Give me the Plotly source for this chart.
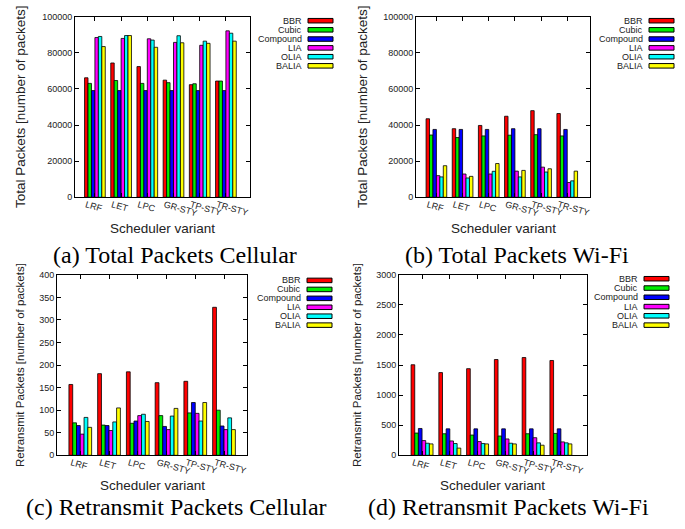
import plotly.graph_objects as go

categories = ["LRF", "LET", "LPC", "GR-STY", "TP-STY", "TR-STY"]
series = ["BBR", "Cubic", "Compound", "LIA", "OLIA", "BALIA"]
colors = ["#ff0000", "#00ee00", "#0000ff", "#ff00ff", "#00ffff", "#ffff00"]

# (a) Total packets, cellular
total_cell = {
    "BBR":      [66200, 74400, 72400, 64900, 62400, 64400],
    "Cubic":    [63100, 64700, 63100, 63500, 62900, 64400],
    "Compound": [59100, 59100, 59100, 59100, 59100, 59100],
    "LIA":      [88500, 88000, 87800, 85800, 84200, 92200],
    "OLIA":     [89100, 89600, 87100, 89500, 86500, 90900],
    "BALIA":    [83500, 89600, 83100, 85600, 85300, 86500],
}
# (b) Total packets, Wi-Fi
total_wifi = {
    "BBR":      [43500, 38000, 39800, 44900, 48000, 46400],
    "Cubic":    [34500, 33100, 34000, 34400, 34700, 34000],
    "Compound": [37600, 37600, 37600, 38000, 38000, 37600],
    "LIA":      [12000, 12900, 12900, 14500, 16700, 8200],
    "OLIA":     [11300, 10700, 14400, 11300, 14000, 9100],
    "BALIA":    [17500, 11600, 18700, 14900, 15800, 14500],
}
# (c) Retransmit packets, cellular
retr_cell = {
    "BBR":      [157, 181, 185, 161, 164, 328],
    "Cubic":    [72, 67, 71, 88, 94, 100],
    "Compound": [66, 66, 76, 64, 117, 65],
    "LIA":      [47, 55, 88, 57, 93, 57],
    "OLIA":     [84, 74, 91, 87, 76, 83],
    "BALIA":    [62, 105, 75, 104, 117, 57],
}
# (d) Retransmit packets, Wi-Fi
retr_wifi = {
    "BBR":      [1505, 1375, 1440, 1592, 1625, 1576],
    "Cubic":    [370, 359, 337, 321, 359, 364],
    "Compound": [446, 440, 440, 440, 440, 440],
    "LIA":      [245, 239, 228, 272, 293, 223],
    "OLIA":     [201, 196, 196, 201, 207, 207],
    "BALIA":    [190, 120, 190, 190, 168, 190],
}

W, H = 685, 529
def px(x): return x / W
def py(y): return 1 - y / H

panels = [
    dict(data=total_cell, xd=(75, 250), yd=(12, 196), xr=[-0.76, 5.92], yr=[0, 100000], dt=20000,
         ytitle="Total Packets [number of packets]", yts=13.5, ytx=20,
         cap="(a) Total Packets Cellular", capx=175, capy=255, xtx=162, xty=228,
         legx=303, legy=[16, 25.3, 34.7, 43.7, 52.7, 62]),
    dict(data=total_wifi, xd=(416, 590), yd=(12, 196), xr=[-0.78, 5.87], yr=[0, 100000], dt=20000,
         ytitle="Total Packets [number of packets]", yts=13.5, ytx=362,
         cap="(b) Total Packets Wi-Fi", capx=517, capy=255, xtx=503, xty=228,
         legx=644, legy=[16, 25.3, 34.7, 43.7, 52.7, 62]),
    dict(data=retr_cell, xd=(57, 247), yd=(275, 459), xr=[-0.81, 5.8], yr=[0, 400], dt=50,
         ytitle="Retransmit Packets [number of packets]", yts=11.5, ytx=20,
         cap="(c) Retransmit Packets Cellular", capx=176, capy=512, xtx=152, xty=490,
         legx=302, legy=[280.7, 289.9, 299.0, 308.1, 317.2, 326.3]),
    dict(data=retr_wifi, xd=(399, 587), yd=(275, 459), xr=[-0.83, 5.94], yr=[0, 3000], dt=500,
         ytitle="Retransmit Packets [number of packets]", yts=11.5, ytx=357,
         cap="(d) Retransmit Packets Wi-Fi", capx=508, capy=512, xtx=492, xty=490,
         legx=639, legy=[279, 288.5, 297.9, 307.4, 316.8, 326.3]),
]

fig = go.Figure()
annotations = []
shapes = []
sans = "Liberation Sans, Arial, sans-serif"
serif = "Liberation Serif, Times New Roman, serif"

for i, p in enumerate(panels):
    n = "" if i == 0 else str(i + 1)
    for s, c in zip(series, colors):
        fig.add_trace(go.Bar(
            x=categories, y=p["data"][s], name=s, showlegend=False,
            marker=dict(color=c, line=dict(color="black", width=0.8)),
            xaxis="x" + n, yaxis="y" + n, offsetgroup=s,
        ))
    fig.update_layout(**{
        "xaxis" + n: dict(
            domain=[px(p["xd"][0]), px(p["xd"][1])], anchor="y" + n,
            range=p["xr"], type="category",
            showline=True, linecolor="black", linewidth=1, mirror="allticks",
            ticks="inside", ticklen=4, tickcolor="black",
            tickangle=16, tickfont=dict(family=sans, size=9, color="#222"),
            ticklabelshift=-9, ticklabelstandoff=-2,
            showgrid=False, zeroline=False,
        ),
        "yaxis" + n: dict(
            domain=[py(p["yd"][1]), py(p["yd"][0])], anchor="x" + n,
            range=p["yr"], dtick=p["dt"], tick0=0, tickformat="d",
            showline=True, linecolor="black", linewidth=1, mirror="allticks",
            ticks="inside", ticklen=4, tickcolor="black",
            tickfont=dict(family=sans, size=9, color="#222"),
            showgrid=False, zeroline=False,
        ),
    })
    # axis titles
    annotations.append(dict(
        text=p["ytitle"], xref="paper", yref="paper",
        x=px(p["ytx"]), y=py((p["yd"][0] + p["yd"][1]) / 2), textangle=-90,
        showarrow=False, xanchor="center", yanchor="middle",
        font=dict(family=sans, size=p["yts"], color="#222"),
    ))
    annotations.append(dict(
        text="Scheduler variant", xref="paper", yref="paper",
        x=px(p["xtx"]), y=py(p["xty"]), showarrow=False,
        xanchor="center", yanchor="middle",
        font=dict(family=sans, size=13.5, color="#222"),
    ))
    annotations.append(dict(
        text=p["cap"], xref="paper", yref="paper",
        x=px(p["capx"]), y=py(p["capy"]), showarrow=False,
        xanchor="center", yanchor="middle",
        font=dict(family=serif, size=24, color="black"),
    ))
    # legend
    for s, c, ly in zip(series, colors, p["legy"]):
        annotations.append(dict(
            text=s, xref="paper", yref="paper",
            x=px(p["legx"]), y=py(ly), showarrow=False,
            xanchor="right", yanchor="middle", borderpad=0,
            font=dict(family=sans, size=9, color="#222"),
        ))
        shapes.append(dict(
            type="rect", xref="paper", yref="paper",
            x0=px(p["legx"] + 5), x1=px(p["legx"] + 30),
            y0=py(ly - 2.3), y1=py(ly + 2.3),
            fillcolor=c, line=dict(color="black", width=1),
        ))

fig.update_layout(
    width=W, height=H,
    margin=dict(l=0, r=0, t=0, b=0),
    paper_bgcolor="white", plot_bgcolor="white",
    barmode="group", bargap=0.21, bargroupgap=0,
    annotations=annotations, shapes=shapes,
    showlegend=False,
)

fig.write_html("out.html", config={"displayModeBar": False},
               post_script="document.body.style.margin='0px';")
